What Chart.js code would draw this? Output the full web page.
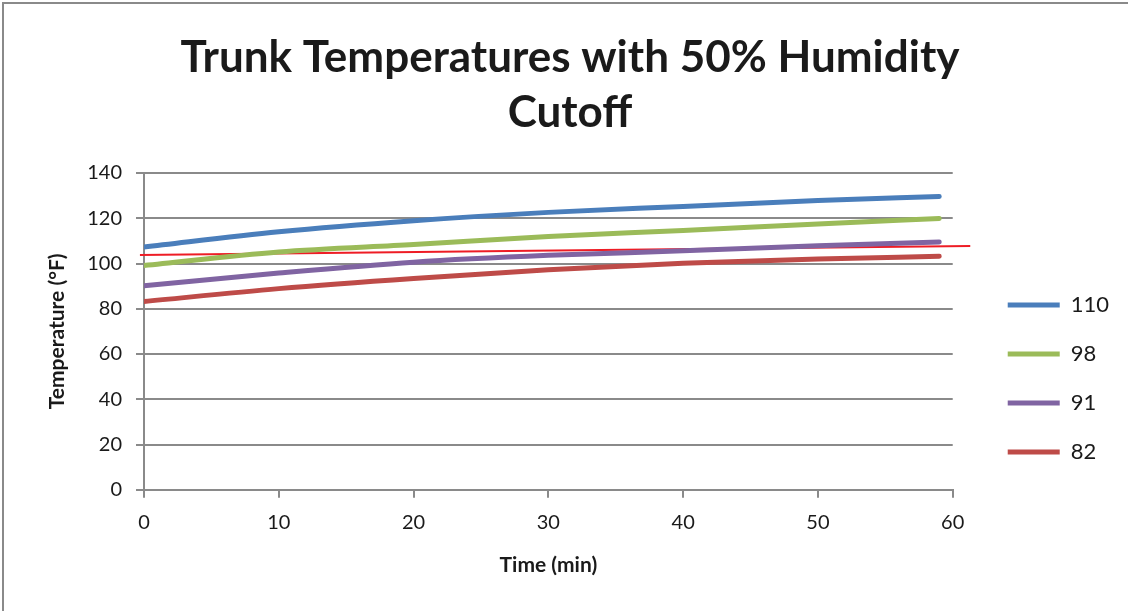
<!DOCTYPE html>
<html>
<head>
<meta charset="utf-8">
<script src="https://cdn.jsdelivr.net/npm/chart.js@4/dist/chart.umd.min.js"></script>
<style>
    body { margin: 0; background: #fff; }
    #wrap { position: relative; width: 1128px; height: 611px; }
    #wrap .edge-top { position: absolute; left: 2px; top: 2px; width: 1126px; height: 2px; background: #8a8a8a; }
    #wrap .edge-left { position: absolute; left: 2px; top: 2px; width: 2px; height: 609px; background: #8a8a8a; }
    canvas { position: absolute; left: 0; top: 0; }
</style>
</head>
<body>
<div id="wrap">
    <canvas id="trunkChart" width="1128" height="611"></canvas>
    <div class="edge-top"></div>
    <div class="edge-left"></div>
</div>
<script>
// time in minutes
const times = [0, 10, 20, 30, 40, 50, 59];
// trunk temperature (°F) for each outside temperature
const temp110 = [107.3, 114.0, 118.9, 122.6, 125.2, 127.8, 129.6];
const temp98 = [99.1, 105.1, 108.4, 111.9, 114.6, 117.5, 119.9];
const temp91 = [90.2, 95.8, 100.6, 103.6, 105.6, 107.9, 109.5];
const temp82 = [83.2, 88.9, 93.4, 97.2, 100.1, 102.0, 103.2];
// 50% humidity cutoff line
const cutoffTimes = [-0.3, 61.3];
const cutoffTemps = [103.8, 107.7];

const seriesLabels = ['110', '98', '91', '82'];
const seriesValues = [temp110, temp98, temp91, temp82];
const seriesColors = ['#4a7ebb', '#9bbb59', '#8064a2', '#be4b48'];

const yTicks = [0, 20, 40, 60, 80, 100, 120, 140];

function toPoints(xs, ys) {
    return xs.map((x, i) => ({ x: x, y: ys[i] }));
}

document.addEventListener("DOMContentLoaded", function () {
    const datasets = seriesLabels.map((label, i) => ({
        label: label,
        data: toPoints(times, seriesValues[i]),
        borderColor: seriesColors[i],
        backgroundColor: seriesColors[i],
        borderWidth: 5,
        borderCapStyle: 'round',
        borderJoinStyle: 'round',
        pointRadius: 0,
        cubicInterpolationMode: 'monotone',
        fill: false
    }));

    datasets.push({
        label: 'cutoff',
        data: toPoints(cutoffTimes, cutoffTemps),
        borderColor: '#ee1c25',
        borderWidth: 2,
        pointRadius: 0,
        clip: false,
        fill: false
    });

    const ctx = document.getElementById('trunkChart').getContext('2d');
    new Chart(ctx, {
        type: 'line',
        data: { datasets: datasets },
        options: {
            responsive: false,
            animation: false,
            devicePixelRatio: 1,
            layout: {
                padding: { left: 21, right: 9, top: 0, bottom: 28 }
            },
            plugins: {
                tooltip: { enabled: false },
                title: {
                    display: true,
                    text: ['Trunk Temperatures with 50% Humidity', 'Cutoff'],
                    color: '#1a1a1a',
                    font: { family: 'Lato', size: 44, weight: 'bold', lineHeight: 1.25 },
                    padding: { top: 30, bottom: 33 }
                },
                legend: {
                    position: 'right',
                    align: 'start',
                    // empty title only pushes the items down
                    title: {
                        display: true,
                        text: '',
                        font: { size: 10, lineHeight: 1 },
                        padding: { top: 257, bottom: 0 }
                    },
                    labels: {
                        filter: item => item.text !== 'cutoff',
                        usePointStyle: true,
                        pointStyle: 'line',
                        pointStyleWidth: 52,
                        boxHeight: 22,
                        padding: 27,
                        color: '#1a1a1a',
                        font: { family: 'Lato', size: 22 }
                    }
                }
            },
            scales: {
                x: {
                    type: 'linear',
                    min: 0,
                    max: 60,
                    ticks: {
                        stepSize: 10,
                        color: '#1a1a1a',
                        padding: 13,
                        font: { family: 'Lato', size: 20 }
                    },
                    grid: {
                        drawOnChartArea: false,
                        drawTicks: true,
                        tickLength: 8,
                        color: '#8a8a8a',
                        lineWidth: 2
                    },
                    border: { color: '#8a8a8a', width: 2 },
                    title: {
                        display: true,
                        text: 'Time (min)',
                        color: '#1a1a1a',
                        font: { family: 'Lato', size: 21, weight: 'bold' },
                        padding: { top: 5, bottom: 5 }
                    }
                },
                y: {
                    min: 0,
                    max: 140,
                    afterBuildTicks: axis => {
                        axis.ticks = yTicks.map(v => ({ value: v }));
                    },
                    ticks: {
                        color: '#1a1a1a',
                        padding: 14,
                        font: { family: 'Lato', size: 20 }
                    },
                    grid: {
                        drawTicks: true,
                        tickLength: 8,
                        color: '#8a8a8a',
                        lineWidth: 2
                    },
                    border: { color: '#8a8a8a', width: 2 },
                    title: {
                        display: true,
                        text: 'Temperature (°F)',
                        color: '#1a1a1a',
                        font: { family: 'Lato', size: 21, weight: 'bold' },
                        padding: { top: 24, bottom: 3 }
                    }
                },
                // empty spacer between plot and legend
                gap: {
                    position: 'right',
                    display: true,
                    grid: { display: false },
                    border: { display: false },
                    ticks: { display: false },
                    afterFit: axis => { axis.width = 28; }
                }
            }
        }
    });
});
</script>
</body>
</html>
